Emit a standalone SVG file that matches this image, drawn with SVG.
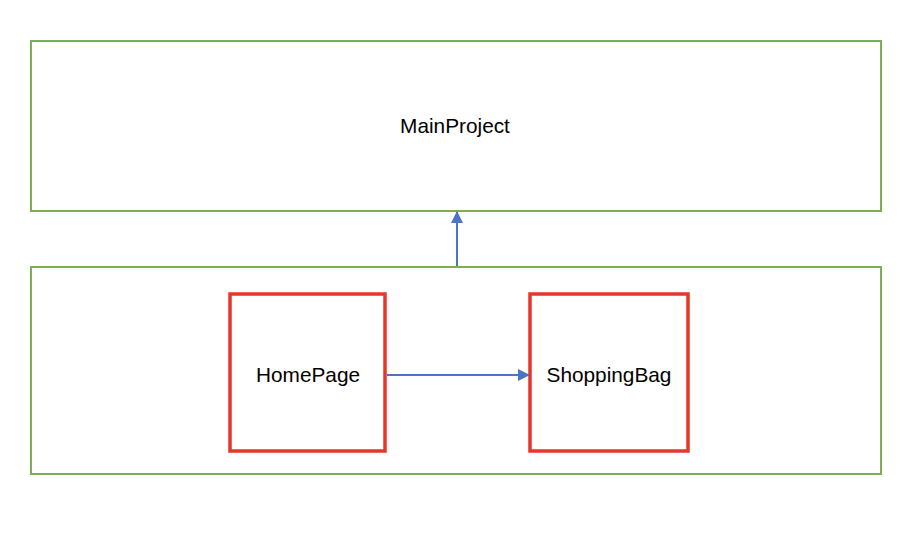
<svg xmlns="http://www.w3.org/2000/svg" width="920" height="540" viewBox="0 0 920 540">
<style>
.grp{fill:none;stroke:#7fac56;stroke-width:2}
.mod{fill:#fff;stroke:#e8362a;stroke-width:3.5}
.lbl{font-family:"Liberation Sans",Arial,sans-serif;font-size:20.8px;fill:#000;text-anchor:middle}
.edge{fill:none;stroke:#4a74c4;stroke-width:2}
</style>
<defs>
<marker id="arr" viewBox="0 0 12 12" refX="11" refY="6" markerWidth="12" markerHeight="12" markerUnits="userSpaceOnUse" orient="auto">
<path d="M0,0 L12,6 L0,12 Z" fill="#4a74c4"/>
</marker>
</defs>
<rect width="920" height="540" fill="#fff"/>
<g id="MainProject">
<rect class="grp" x="31" y="41" width="850" height="170"/>
<text class="lbl" x="455" y="133">MainProject</text>
</g>
<g id="Container">
<rect class="grp" x="31" y="267" width="850" height="207"/>
</g>
<g id="HomePage">
<rect class="mod" x="230" y="294" width="155" height="157"/>
<text class="lbl" x="308" y="382">HomePage</text>
</g>
<g id="ShoppingBag">
<rect class="mod" x="530" y="294" width="158" height="157"/>
<text class="lbl" x="609" y="382">ShoppingBag</text>
</g>
<g id="connectors">
<line class="edge" x1="457" y1="266" x2="457" y2="212" marker-end="url(#arr)"/>
<line class="edge" x1="387" y1="375" x2="529" y2="375" marker-end="url(#arr)"/>
</g>
</svg>
